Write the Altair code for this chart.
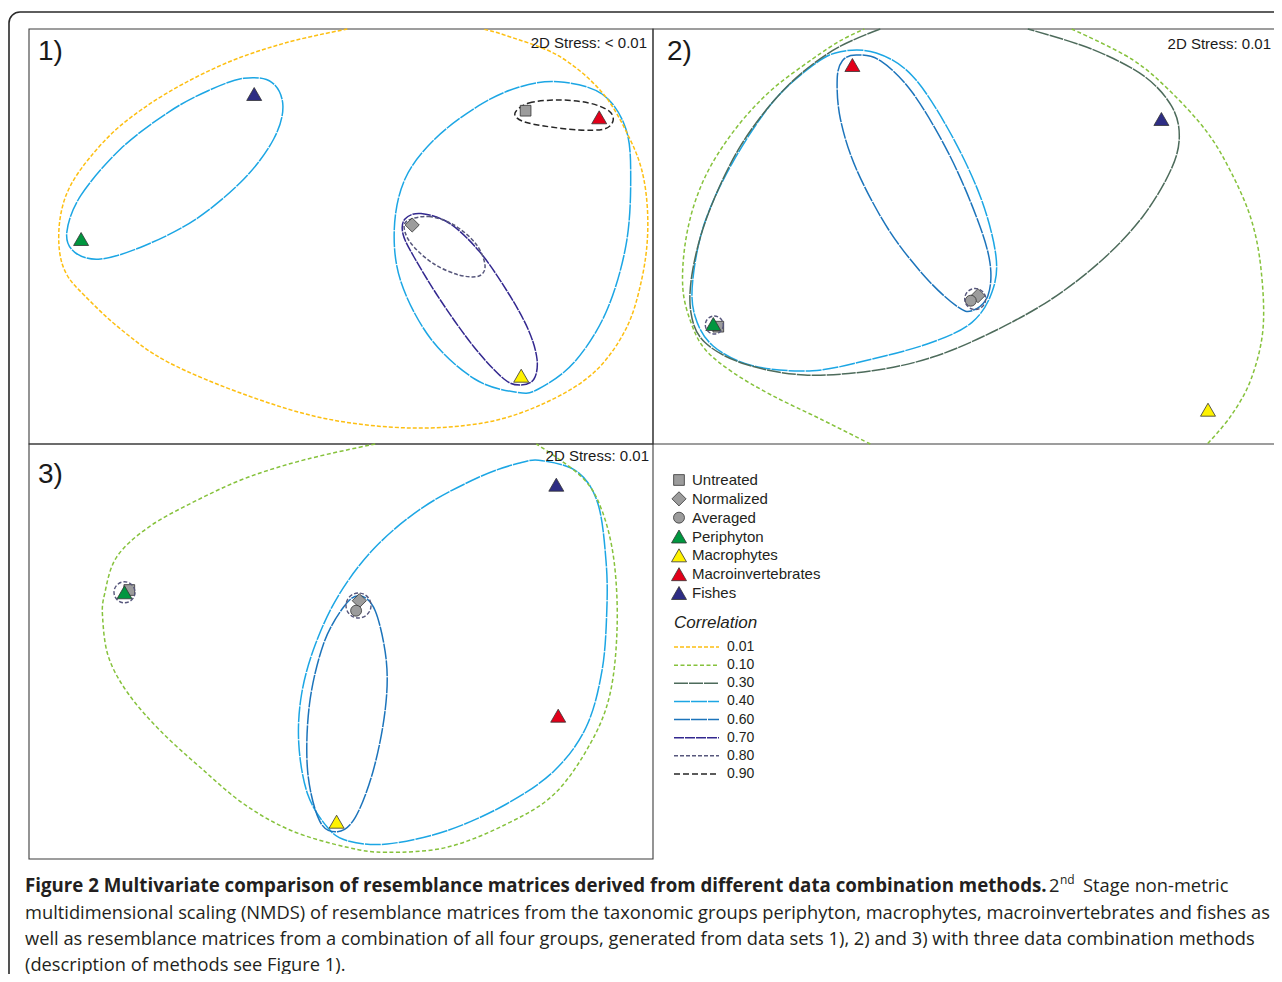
import altair as alt
import pandas as pd

# ---------------- data ----------------
kinds = ["Untreated", "Normalized", "Averaged", "Periphyton",
         "Macrophytes", "Macroinvertebrates", "Fishes"]
kind_shapes = ["square", "diamond", "circle", "triangle-up",
               "triangle-up", "triangle-up", "triangle-up"]
kind_fills = ["#9c9c9c", "#9c9c9c", "#9c9c9c", "#00963f",
              "#fff200", "#e2001a", "#2e2d84"]

corr_levels = ["0.01", "0.10", "0.30", "0.40", "0.60", "0.70", "0.80", "0.90"]
corr_colors = ["#fdbf12", "#86c23c", "#4d6b5b", "#1ca6e4",
               "#1c74bb", "#33288f", "#57577c", "#262626"]
corr_dashes = [[4, 2], [4, 2.5], [14, 1], [16, 1], [16, 1], [10, 1], [4, 2], [6, 3]]
corr_widths = [1.5, 1.5, 1.4, 1.6, 1.5, 1.5, 1.4, 2.0]

panel_labels = ["1)", "2)", "3)"]
stress_labels = ["2D Stress: < 0.01", "2D Stress: 0.01", "2D Stress: 0.01"]

# ordination points (panel units, y measured downward)
p1_kind = ["Untreated", "Normalized", "Periphyton", "Macrophytes", "Macroinvertebrates", "Fishes"]
p1_x = [496.6, 383.2, 52.1, 492.2, 570.2, 225.2]
p1_y = [81.7, 196.0, 210.0, 346.7, 88.3, 65.0]

p2_kind = ["Untreated", "Averaged", "Normalized", "Periphyton", "Macrophytes", "Macroinvertebrates", "Fishes"]
p2_x = [65.3, 317.8, 325.0, 60.3, 555.0, 199.4, 508.4]
p2_y = [297.7, 271.7, 266.7, 295.0, 380.7, 36.0, 90.0]

p3_kind = ["Untreated", "Normalized", "Averaged", "Periphyton", "Macrophytes", "Macroinvertebrates", "Fishes"]
p3_x = [100.3, 330.3, 327.1, 95.5, 307.6, 529.2, 527.3]
p3_y = [146.0, 156.7, 166.7, 148.3, 377.7, 271.7, 40.7]

# small 0.80 rings around coinciding points: panel, x, y, diameter
ring_panel = [2, 2, 3, 3]
ring_x = [61.3, 322.2, 95.5, 329.5]
ring_y = [296.0, 270.0, 148.3, 161.5]
ring_d = [18, 21, 21, 25]

# correlation contours (panel units)
P1_YELLOW = [(318.3, 0), (258.7, 13.3), (199.0, 33.3), (139.3, 63.3), (91.5, 96.7), (59.7, 130),
             (39.8, 160), (31.0, 190), (30.5, 222), (38, 246), (55.7, 266.7), (91.5, 300),
             (139.3, 333.3), (218.9, 366.7), (298.4, 390), (382, 399), (457.6, 393.3),
             (517.3, 373.3), (565.1, 343.3), (596.9, 300), (612.8, 250), (618.8, 200),
             (614.8, 150), (600.9, 110), (573, 63.3), (529.3, 26.7), (477.5, 6.7), (453.6, 0)]
P1_BLUE_L = [(37.8, 203.3), (51.7, 166.7), (91.5, 120), (139.3, 83.3), (179.1, 61.7), (214.9, 49.3),
             (242.7, 53.3), (253.9, 76.7), (244.7, 110), (214.9, 150), (167.1, 190), (115.4, 216.7),
             (71.6, 230), (45.8, 223.3)]
P1_BLUE_R = [(529.3, 52.7), (573, 65), (596.9, 100), (601.7, 150), (596.9, 216.7), (577, 283.3),
             (545.2, 333.3), (509.4, 360), (487.5, 363.3), (445.7, 350), (401.9, 310), (372.1, 253.3),
             (365.3, 200), (376, 150), (405.9, 110), (449.7, 76.7), (489.5, 58.3)]
P1_BLACK = [(486, 84), (500, 74), (530, 71), (560, 74), (580, 82), (584, 92), (575, 100),
            (550, 101), (515, 97), (493, 92)]
P1_PURPLE = [(376, 190), (392, 184.5), (420, 194), (450, 222), (478, 262), (499, 300), (508, 330),
             (505, 350), (492, 356), (475, 350), (445, 318), (412, 272), (385, 228), (374, 205)]
P1_GREY = [(378, 192), (400, 187.5), (425, 196), (447, 215), (456, 236), (450, 247), (430, 246),
           (405, 235), (385, 218), (376, 203)]

P2_GREEN_R = [(418.7, 0), (478.5, 30), (518.3, 63.3), (554.2, 103.3), (578.1, 143.3), (598.1, 190),
              (608, 240), (610, 300), (598.1, 350), (578.1, 386.7), (554.2, 415)]
P2_GREEN_L = [(217.3, 415), (167.5, 390), (119.6, 366.7), (79.7, 343.3), (51.8, 320), (37.9, 293.3),
              (29.9, 260), (31.9, 216.7), (41.9, 173.3), (59.8, 133.3), (87.7, 93.3), (119.6, 60),
              (159.5, 30), (187.4, 11.7), (211.3, 0)]
P2_GREYGREEN = [(227.3, 0), (179.4, 21.7), (131.6, 60), (87.7, 116.7), (55.8, 183.3), (39.9, 240),
                (37.9, 283.3), (51.8, 313.3), (91.7, 335), (151.5, 346), (219.3, 341.7), (279.1, 328.3),
                (338.9, 303.3), (398.7, 270), (450.2, 230), (490.4, 186.7), (518.3, 140), (526.3, 106.7),
                (518.3, 76.7), (490.4, 46.7), (438.6, 20), (374.8, 0)]
P2_BLUE = [(187.4, 22.7), (223.3, 24), (259.2, 46.7), (295.1, 100), (327, 166.7), (342.9, 226.7),
           (338.9, 263.3), (319, 293.3), (279.1, 313.3), (219.3, 330), (159.5, 341.7), (99.7, 336.7),
           (59.8, 316.7), (41.9, 286.7), (39.9, 250), (51.8, 193.3), (79.7, 133.3), (119.6, 73.3),
           (159.5, 36.7)]
P2_MIDBLUE = [(203.3, 26), (227.3, 31.7), (259.2, 63.3), (295.1, 123.3), (323, 186.7), (336.9, 233.3),
              (334.9, 266.7), (319, 281.7), (303, 276.7), (271.1, 246.7), (235.2, 200), (203.3, 140),
              (187.4, 90), (184.2, 50), (189.4, 31.7)]

P3_GREEN = [(346.2, 0), (278.6, 15), (218.9, 33.3), (167.1, 56.7), (119.4, 83.3), (87.5, 113.3),
            (75.6, 150), (73.6, 173.3), (79.6, 213.3), (99.5, 250), (131.3, 286.7), (171.1, 323.3),
            (214.9, 360), (262.6, 386.7), (318.3, 403.3), (358.1, 408.3), (417.8, 403.3), (477.5, 380),
            (525.3, 350), (561.1, 300), (581, 250), (588.1, 183.3), (585, 116.7), (573, 66.7),
            (553.1, 33.3), (507.4, 0)]
P3_BLUE = [(513.3, 16.7), (549.1, 28.3), (569, 60), (577, 116.7), (577.8, 166.7), (573, 226.7),
           (557.1, 283.3), (525.3, 326.7), (477.5, 360), (417.8, 386.7), (358.1, 400), (318.3, 396.7),
           (298.4, 383.3), (278.6, 350), (269.8, 300), (272.6, 250), (286.5, 200), (310.4, 150),
           (346.2, 103.3), (394, 63.3), (449.7, 33.3), (489.5, 19.3)]
P3_MIDBLUE = [(330.3, 151.7), (346.2, 166.7), (357.3, 216.7), (356.1, 266.7), (344.2, 326.7),
              (326.3, 373.3), (308.4, 387.7), (290.5, 376.7), (278.6, 326.7), (280.5, 260),
              (294.5, 200), (314.4, 163.3)]

# (panel, correlation, closed?, points)
contour_list = [
    (1, "0.01", False, P1_YELLOW), (1, "0.40", True, P1_BLUE_L), (1, "0.40", True, P1_BLUE_R),
    (1, "0.90", True, P1_BLACK), (1, "0.70", True, P1_PURPLE), (1, "0.80", True, P1_GREY),
    (2, "0.10", False, P2_GREEN_R), (2, "0.10", False, P2_GREEN_L), (2, "0.30", False, P2_GREYGREEN),
    (2, "0.40", True, P2_BLUE), (2, "0.60", True, P2_MIDBLUE),
    (3, "0.10", False, P3_GREEN), (3, "0.40", True, P3_BLUE), (3, "0.60", True, P3_MIDBLUE),
]

cap_bold = "Figure 2 Multivariate comparison of resemblance matrices derived from different data combination methods."
cap_tail = ["2", "nd", "Stage non-metric"]
cap_lines = [
    "multidimensional scaling (NMDS) of resemblance matrices from the taxonomic groups periphyton, macrophytes, macroinvertebrates and fishes as",
    "well as resemblance matrices from a combination of all four groups, generated from data sets 1), 2) and 3) with three data combination methods",
    "(description of methods see Figure 1).",
]

# ---------------- tables ----------------
rows = []
for cid, (pan, corr, closed, pts) in enumerate(contour_list):
    for i, (x, y) in enumerate(pts):
        rows.append(dict(panel=pan, corr=corr, closed=closed, cid=cid, i=i, x=x, y=y))
cont = pd.DataFrame(rows)

pts_df = {
    1: pd.DataFrame(dict(kind=p1_kind, x=p1_x, y=p1_y)),
    2: pd.DataFrame(dict(kind=p2_kind, x=p2_x, y=p2_y)),
    3: pd.DataFrame(dict(kind=p3_kind, x=p3_x, y=p3_y)),
}
rings = pd.DataFrame(dict(panel=ring_panel, x=ring_x, y=ring_y, d=ring_d, corr="0.80"))

# ---------------- layout / style ----------------
W, H = 1266, 966
PX = {1: (21, 645, 624), 2: (645, 1267, 622), 3: (21, 645, 624)}
PY = {1: (21, 436), 2: (21, 436), 3: (436, 851)}
FONT = "Liberation Sans"
TXT = "#231f20"
# marker groups drawn in this order, with their symbol area
MARKER_GROUPS = [(["Untreated"], 115), (["Normalized"], 200), (["Averaged"], 120),
                 (["Periphyton", "Macrophytes", "Macroinvertebrates", "Fishes"], 225)]


def X(p):
    a, b, w = PX[p]
    return alt.X("x:Q", scale=alt.Scale(domain=[0, w], range=[a, b], nice=False, zero=False), axis=None)


def Y(p):
    a, b = PY[p]
    return alt.Y("y:Q", scale=alt.Scale(domain=[0, 415], range=[a, b], nice=False, zero=False), axis=None)


stroke_enc = alt.Stroke("corr:N", scale=alt.Scale(domain=corr_levels, range=corr_colors), legend=None)
dash_enc = alt.StrokeDash("corr:N", scale=alt.Scale(domain=corr_levels, range=corr_dashes), legend=None)
sw_enc = alt.StrokeWidth("corr:N", scale=alt.Scale(domain=corr_levels, range=corr_widths), legend=None)
shape_enc = alt.Shape("kind:N", scale=alt.Scale(domain=kinds, range=kind_shapes), legend=None)
fill_enc = alt.Fill("kind:N", scale=alt.Scale(domain=kinds, range=kind_fills), legend=None)

one = pd.DataFrame({"_": [0]})
layers = []

# frame and panel borders
layers.append(alt.Chart(one).mark_rect(cornerRadius=11, fill="white", stroke="#2a2a2a", strokeWidth=1.6)
              .encode(x=alt.value(1), x2=alt.value(1300), y=alt.value(4), y2=alt.value(1000)))
for p in (1, 2, 3):
    layers.append(alt.Chart(one).mark_rect(fill="transparent", stroke="#3c3c3c", strokeWidth=1.1)
                  .encode(x=alt.value(PX[p][0]), x2=alt.value(PX[p][1]),
                          y=alt.value(PY[p][0]), y2=alt.value(PY[p][1])))

# contours
for p in (1, 2, 3):
    for closed in (True, False):
        sub = cont[(cont.panel == p) & (cont.closed == closed)]
        if len(sub) == 0:
            continue
        layers.append(
            alt.Chart(sub).mark_line(interpolate="cardinal-closed" if closed else "cardinal")
            .encode(x=X(p), y=Y(p), detail="cid:N", order="i:Q",
                    stroke=stroke_enc, strokeDash=dash_enc, strokeWidth=sw_enc))


def marker_layers(df, xenc, yenc):
    out = []
    for group, area in MARKER_GROUPS:
        sub = df[df.kind.isin(group)]
        if len(sub) == 0:
            continue
        out.append(alt.Chart(sub).mark_point(filled=True, opacity=1, stroke="#333333", strokeWidth=0.8, size=area)
                   .encode(x=xenc, y=yenc, shape=shape_enc, fill=fill_enc))
    return out


# points
for p in (1, 2, 3):
    layers.extend(marker_layers(pts_df[p], X(p), Y(p)))

# 0.80 rings
for p in (2, 3):
    layers.append(
        alt.Chart(rings[rings.panel == p]).mark_point(shape="circle", filled=False, opacity=1, strokeWidth=1.4)
        .encode(x=X(p), y=Y(p), stroke=stroke_enc, strokeDash=dash_enc,
                size=alt.Size("d:Q", scale=alt.Scale(type="pow", exponent=2, domain=[0, 30], range=[0, 900]),
                              legend=None)))

# panel texts
lab_pos = [(30, 52), (659, 52), (30, 475)]
stress_pos = [(639, 40), (1263, 41), (641, 453)]
for k in range(3):
    layers.append(alt.Chart(pd.DataFrame({"t": [panel_labels[k]]}))
                  .mark_text(align="left", baseline="alphabetic", font=FONT, fontSize=28, color="#1a1a1a")
                  .encode(x=alt.value(lab_pos[k][0]), y=alt.value(lab_pos[k][1]), text="t:N"))
    layers.append(alt.Chart(pd.DataFrame({"t": [stress_labels[k]]}))
                  .mark_text(align="right", baseline="alphabetic", font=FONT, fontSize=15, color="#1a1a1a")
                  .encode(x=alt.value(stress_pos[k][0]), y=alt.value(stress_pos[k][1]), text="t:N"))

# legend: symbols
leg_sym = pd.DataFrame({"kind": kinds, "row": list(range(len(kinds)))})
ysym = alt.Y("row:Q", scale=alt.Scale(domain=[0, 6], range=[472, 585], nice=False, zero=False), axis=None)
layers.extend(marker_layers(leg_sym, alt.value(671), ysym))
layers.append(alt.Chart(leg_sym).mark_text(align="left", baseline="middle", font=FONT, fontSize=15, color=TXT)
              .encode(x=alt.value(684), y=ysym, text="kind:N"))
layers.append(alt.Chart(pd.DataFrame({"t": ["Correlation"]}))
              .mark_text(align="left", baseline="middle", font=FONT, fontSize=17, fontStyle="italic", color=TXT)
              .encode(x=alt.value(666), y=alt.value(615), text="t:N"))
leg_corr = pd.DataFrame({"corr": corr_levels, "row": list(range(len(corr_levels)))})
ycorr = alt.Y("row:Q", scale=alt.Scale(domain=[0, 7], range=[639, 766], nice=False, zero=False), axis=None)
layers.append(alt.Chart(leg_corr).mark_rule(strokeWidth=1.5)
              .encode(x=alt.value(666), x2=alt.value(711), y=ycorr, stroke=stroke_enc, strokeDash=dash_enc))
layers.append(alt.Chart(leg_corr).mark_text(align="left", baseline="middle", font=FONT, fontSize=14, color=TXT)
              .encode(x=alt.value(719), y=ycorr, text="corr:N"))

# caption
CFONT = "Open Sans"
CSIZE = 18.3
layers.append(alt.Chart(pd.DataFrame({"t": [cap_bold]}))
              .mark_text(align="left", baseline="alphabetic", font=CFONT, fontSize=18.7, fontWeight="bold", color=TXT)
              .encode(x=alt.value(17), y=alt.value(884), text="t:N"))
tail_pos = [(1041, 884, CSIZE), (1052, 876, 12), (1075, 884, CSIZE)]
for k in range(3):
    layers.append(alt.Chart(pd.DataFrame({"t": [cap_tail[k]]}))
                  .mark_text(align="left", baseline="alphabetic", font=CFONT, fontSize=tail_pos[k][2], color=TXT)
                  .encode(x=alt.value(tail_pos[k][0]), y=alt.value(tail_pos[k][1]), text="t:N"))
cap_df = pd.DataFrame({"t": cap_lines, "row": [0, 1, 2]})
layers.append(alt.Chart(cap_df)
              .mark_text(align="left", baseline="alphabetic", font=CFONT, fontSize=CSIZE, color=TXT)
              .encode(x=alt.value(17),
                      y=alt.Y("row:Q", scale=alt.Scale(domain=[0, 2], range=[910.5, 962.5], nice=False, zero=False),
                              axis=None),
                      text="t:N"))

chart = (alt.layer(*layers)
         .resolve_scale(x="independent", y="independent", size="independent")
         .properties(width=W, height=H, padding=0, autosize=alt.AutoSizeParams(type="none"),
                     background="white")
         .configure_view(stroke="transparent"))

chart.save("out.html", embed_options={"renderer": "svg", "actions": False})
